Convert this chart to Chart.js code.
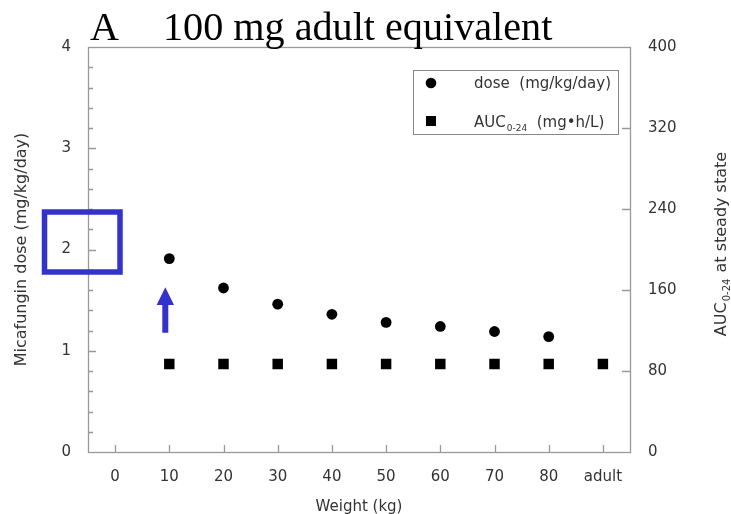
<!DOCTYPE html>
<html><head><meta charset="utf-8">
<script src="https://cdn.jsdelivr.net/npm/chart.js@4.4.1/dist/chart.umd.min.js"></script>
<style>html,body{margin:0;padding:0;background:#fff;}#wrap{width:731px;height:514px;position:relative;}</style>
</head><body><div id="wrap"><canvas id="c" width="731" height="514"></canvas></div>
<script>
const categories = ['0','10','20','30','40','50','60','70','80','adult'];
const doseValues = [null,1.91,1.62,1.46,1.36,1.28,1.24,1.19,1.14,null];
const aucValues  = [null,87,87,87,87,87,87,87,87,87];
const leftTickStep = 1;
const rightTickStep = 80;
const rightTicks = [0,80,160,240,320,400];
const titleLetter = 'A';
const titleText = '100 mg adult equivalent';
const xTitle = 'Weight (kg)';
const yTitle = 'Micafungin dose (mg/kg/day)';
const legendDose = 'dose  (mg/kg/day)';

const FONT = 'DejaVu Sans';
const TXT = '#333';
const BLUE = '#3333cc';

const decor = {
  id: 'decor',
  afterDraw(chart) {
    const {ctx, chartArea: a, scales} = chart;
    const xs = scales.x, ys = scales.y, y2 = scales.y2;
    ctx.save();
    // frame
    ctx.strokeStyle = '#999'; ctx.lineWidth = 1.3;
    ctx.strokeRect(a.left + 0.5, a.top + 0.5, a.right - a.left, a.bottom - a.top);
    // left ticks (inward), major + minor
    ctx.beginPath();
    for (let i = 1; i < 20; i++) {
      const py = Math.round(ys.getPixelForValue(i / 5)) + 0.5;
      const len = (i % 5 === 0) ? 8 : 5;
      ctx.moveTo(a.left, py); ctx.lineTo(a.left + len, py);
    }
    // right ticks
    rightTicks.forEach(v => {
      if (v === 0 || v === 400) return;
      const py = Math.round(y2.getPixelForValue(v)) + 0.5;
      ctx.moveTo(a.right, py); ctx.lineTo(a.right - 8, py);
    });
    // x ticks
    categories.forEach((c, i) => {
      const px = Math.round(xs.getPixelForValue(i)) + 0.5;
      ctx.moveTo(px, a.bottom); ctx.lineTo(px, a.bottom - 7);
    });
    ctx.stroke();

    // legend box
    const lx = 413, ly = 70, lw = 205, lh = 64;
    ctx.strokeStyle = '#888'; ctx.lineWidth = 1;
    ctx.strokeRect(lx + 0.5, ly + 0.5, lw, lh);
    ctx.fillStyle = '#000';
    ctx.beginPath(); ctx.arc(431, 83, 5.3, 0, Math.PI * 2); ctx.fill();
    ctx.fillRect(426, 116, 10, 10);
    ctx.fillStyle = TXT; ctx.textBaseline = 'alphabetic'; ctx.textAlign = 'left';
    ctx.font = '15px "' + FONT + '"';
    ctx.fillText(legendDose, 474, 88);
    let tx = 474;
    ctx.fillText('AUC', tx, 127); tx += ctx.measureText('AUC').width;
    ctx.font = '9px "' + FONT + '"';
    ctx.fillText('0-24', tx + 1, 131); tx += ctx.measureText('0-24').width + 1;
    ctx.font = '15px "' + FONT + '"';
    ctx.fillText('  (mg\u2022h/L)', tx, 127);

    // right axis title (rotated)
    ctx.save();
    ctx.translate(726, 244);
    ctx.rotate(-Math.PI / 2);
    ctx.font = '16px "' + FONT + '"';
    const w1 = ctx.measureText('AUC').width;
    const w3 = ctx.measureText(' at steady state').width;
    ctx.font = '10px "' + FONT + '"';
    const w2 = ctx.measureText('0-24').width;
    let sx = -(w1 + w2 + w3 + 2) / 2;
    ctx.fillStyle = TXT;
    ctx.font = '16px "' + FONT + '"';
    ctx.fillText('AUC', sx, 0); sx += w1 + 1;
    ctx.font = '10px "' + FONT + '"';
    ctx.fillText('0-24', sx, 4); sx += w2 + 1;
    ctx.font = '16px "' + FONT + '"';
    ctx.fillText(' at steady state', sx, 0);
    ctx.restore();

    // main title
    ctx.fillStyle = '#000';
    ctx.font = '39px "Liberation Serif"';
    ctx.save(); ctx.translate(90, 40); ctx.scale(1.03, 1); ctx.fillText(titleLetter, 0, 0); ctx.restore();
    ctx.save(); ctx.translate(163, 40); ctx.scale(1.03, 1); ctx.fillText(titleText, 0, 0); ctx.restore();

    // blue annotation box around the "2" tick label
    const y2pix = ys.getPixelForValue(2);
    ctx.strokeStyle = BLUE; ctx.lineWidth = 5.5;
    ctx.strokeRect(a.left - 43.5, y2pix - 37.5, 75.5, 60);

    // blue arrow under the 10 kg point
    const ax = xs.getPixelForValue(1) - 4;
    const tip = ys.getPixelForValue(1.627), base = ys.getPixelForValue(1.452), bot = ys.getPixelForValue(1.178);
    ctx.fillStyle = BLUE;
    ctx.beginPath();
    ctx.moveTo(ax, tip); ctx.lineTo(ax + 8.7, base); ctx.lineTo(ax + 3, base);
    ctx.lineTo(ax + 3, bot); ctx.lineTo(ax - 3, bot); ctx.lineTo(ax - 3, base);
    ctx.lineTo(ax - 8.7, base); ctx.closePath(); ctx.fill();
    ctx.restore();
  }
};

const tickFont = {family: FONT, size: 15};
new Chart(document.getElementById('c'), {
  type: 'line',
  data: {
    labels: categories,
    datasets: [
      {label: 'dose (mg/kg/day)', data: doseValues, yAxisID: 'y', showLine: false,
       pointStyle: 'circle', pointRadius: 5.4, pointHoverRadius: 5.4,
       backgroundColor: '#000', borderColor: '#000', borderWidth: 0},
      {label: 'AUC0-24 (mg\u2022h/L)', data: aucValues, yAxisID: 'y2', showLine: false,
       pointStyle: 'rect', pointRadius: 7.4, pointHoverRadius: 7.4,
       backgroundColor: '#000', borderColor: '#000', borderWidth: 0}
    ]
  },
  options: {
    responsive: false, animation: false, devicePixelRatio: 1,
    layout: {padding: {top: 47, left: 0, right: 0, bottom: 0}},
    plugins: {legend: {display: false}, tooltip: {enabled: false}, title: {display: false}},
    scales: {
      x: {type: 'category', offset: true,
          grid: {display: false, drawTicks: false}, border: {display: false},
          ticks: {font: tickFont, color: TXT, padding: 16, maxRotation: 0, autoSkip: false},
          title: {display: true, text: xTitle, font: {family: FONT, size: 15}, color: TXT, padding: {top: 0, bottom: -2}},
          afterFit: s => { s.height = 62; }},
      y: {position: 'left', min: 0, max: 4,
          grid: {display: false, drawTicks: false}, border: {display: false},
          ticks: {stepSize: leftTickStep, font: tickFont, color: TXT, padding: 17},
          title: {display: true, text: yTitle, font: {family: FONT, size: 16}, color: TXT, padding: {top: 12, bottom: 0}},
          afterFit: s => { s.width = 88; }},
      y2: {position: 'right', min: 0, max: 400,
          grid: {display: false, drawTicks: false}, border: {display: false},
          ticks: {stepSize: rightTickStep, font: tickFont, color: TXT, padding: 18},
          afterFit: s => { s.width = 101; }}
    }
  },
  plugins: [decor]
});
</script></body></html>
